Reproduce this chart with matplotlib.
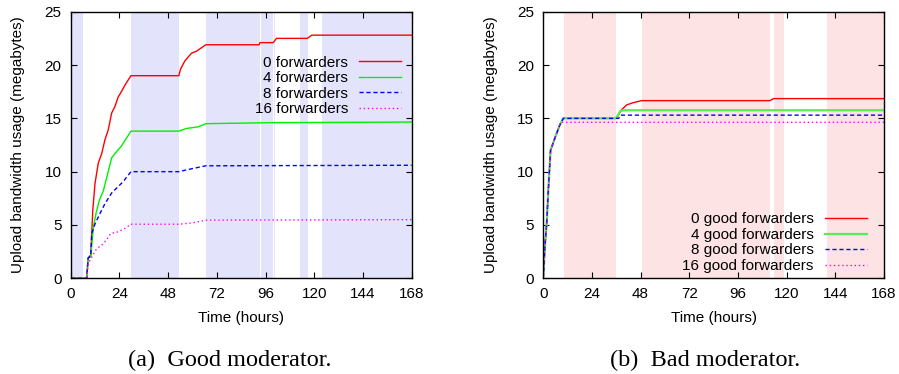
import matplotlib
matplotlib.use("Agg")
import matplotlib.pyplot as plt

plt.rcParams["font.family"] = ["Liberation Sans", "DejaVu Sans"]

# ---- (a) good moderator: cumulative upload per forwarder count ----
good_red_hours = [0, 7.9, 8.6, 9.9, 10.9, 12, 13.6, 15.3, 16.9, 18.5, 20.2, 21.8, 23.4, 25,
                  26.7, 29.7, 53.3, 54.1, 56.3, 59.5, 62, 66.6, 92.9, 93.3, 99.8, 101.4,
                  116.6, 118.8, 168]
good_red_mb = [0, 0, 1.9, 2.2, 6.4, 8.9, 10.8, 11.7, 13.0, 13.9, 15.5, 16.1, 17.0, 17.5,
               18.1, 19.0, 19.0, 19.6, 20.4, 21.1, 21.3, 21.9, 21.9, 22.1, 22.1, 22.5,
               22.5, 22.8, 22.8]

good_green_hours = [0, 7.9, 8.6, 9.9, 11.2, 12.5, 14.1, 16.1, 17.7, 20.2, 22.7, 25, 29.7,
                    53.3, 57, 62.8, 66.6, 101, 168]
good_green_mb = [0, 0, 1.9, 2.0, 4.8, 6.1, 7.3, 8.2, 9.4, 11.3, 11.9, 12.4, 13.8, 13.8,
                 14.05, 14.2, 14.5, 14.6, 14.65]

good_blue_hours = [0, 7.9, 8.6, 9.9, 10.4, 12, 14.5, 16.9, 20.2, 23.4, 25.8, 29.7, 53.3,
                   60.3, 66.6, 168]
good_blue_mb = [0, 0, 1.9, 2.1, 4.2, 5.1, 6.1, 7.0, 8.0, 8.6, 9.05, 10.0, 10.0, 10.3,
                10.55, 10.6]

good_magenta_hours = [0, 7.9, 8.7, 10.4, 12.9, 15.3, 17.7, 19.7, 23.4, 26.7, 29.7, 53.3,
                      60.3, 66.6, 168]
good_magenta_mb = [0, 0, 1.4, 2.0, 2.8, 3.1, 3.6, 4.2, 4.36, 4.67, 5.07, 5.07, 5.2, 5.45,
                   5.5]

good_labels = ["0 forwarders", "4 forwarders", "8 forwarders", "16 forwarders"]

# moderator-offline periods (hours)
good_bands = [(0, 6), (20.2, 20.6), (29.7, 53.3), (66.6, 93.25), (93.7, 99.5),
              (100.0, 100.6), (113.0, 116.7), (123.8, 168)]

# ---- (b) bad moderator ----
bad_red_hours = [0, 0.8, 1.7, 2.5, 3.6, 4.9, 6.6, 8.2, 9.9, 35.8, 37, 38.6, 41.1, 44.4,
                 48.5, 111.8, 113.5, 168]
bad_red_mb = [0, 2.97, 5.16, 8.3, 12.0, 12.7, 13.6, 14.4, 15.0, 15.0, 15.3, 15.8, 16.26,
              16.47, 16.66, 16.66, 16.85, 16.85]

bad_green_hours = [0, 0.8, 1.7, 2.5, 3.6, 4.9, 6.6, 8.2, 9.9, 35.8, 36.8, 38, 40, 168]
bad_green_mb = [0, 2.97, 5.16, 8.3, 12.0, 12.7, 13.6, 14.4, 15.0, 15.0, 15.3, 15.7, 15.76,
                15.76]

bad_blue_hours = [0, 0.8, 1.7, 2.5, 3.6, 4.9, 6.6, 8.2, 9.9, 37.2, 38, 168]
bad_blue_mb = [0, 2.97, 5.16, 8.3, 12.0, 12.7, 13.6, 14.4, 15.0, 15.0, 15.3, 15.3]

bad_magenta_hours = [0, 0.8, 1.7, 2.5, 3.6, 4.9, 6.6, 8.2, 9.5, 168]
bad_magenta_mb = [0, 2.97, 5.16, 8.3, 12.0, 12.7, 13.6, 14.4, 14.63, 14.63]

bad_labels = ["0 good forwarders", "4 good forwarders", "8 good forwarders",
              "16 good forwarders"]

bad_bands = [(10.2, 35.8), (48.6, 111.8), (113.7, 118.6), (139.8, 168)]

x_ticks = [0, 24, 48, 72, 96, 120, 144, 168]
y_ticks = [0, 5, 10, 15, 20, 25]

styles = [
    dict(color="#ff0000", lw=1.0, ls="-"),
    dict(color="#00f000", lw=1.0, ls="-"),
    dict(color="#0000ff", lw=1.0, ls=(0, (3, 2))),
    dict(color="#ff00ff", lw=1.0, ls=(0, (1, 2))),
]

fig = plt.figure(figsize=(8.99, 3.74), dpi=100)
ax_a = fig.add_axes([0.0786, 0.2559, 0.3793, 0.7128])
ax_b = fig.add_axes([0.6043, 0.2559, 0.3790, 0.7128])


def draw_panel(ax, bands, band_color, series, labels, legend_anchor, legend_loc,
               green_lw=1.0, green_color=None):
    for start, end in bands:
        ax.axvspan(start, end, color=band_color, lw=0, zorder=0)
    for i, ((hours, mb), style) in enumerate(zip(series, styles)):
        st = dict(style)
        if i == 1:
            st["lw"] = green_lw
            if green_color:
                st["color"] = green_color
        ax.plot(hours, mb, label=labels[i], zorder=2, **st)
    ax.set_xlim(0, 168)
    ax.set_ylim(0, 25)
    ax.set_xticks(x_ticks)
    ax.set_yticks(y_ticks)
    ax.tick_params(direction="in", length=4, width=0.8, top=True, right=True,
                   labelsize=11)
    ax.tick_params(axis="x", pad=6)
    ax.tick_params(axis="y", pad=6.5)
    for sp in ax.spines.values():
        sp.set_linewidth(1.0)
    ax.set_xlabel("Time (hours)", fontsize=11)
    ax.xaxis.set_label_coords(0.5, -0.123)
    ax.set_ylabel("Upload bandwidth usage (megabytes)", fontsize=11)
    ax.yaxis.set_label_coords(-0.134, 0.5)
    leg = ax.legend(loc=legend_loc, bbox_to_anchor=legend_anchor, frameon=False,
                    markerfirst=False, fontsize=11, handlelength=2.75,
                    handletextpad=0.75, labelspacing=0.1, borderaxespad=0,
                    borderpad=0)
    return leg


draw_panel(ax_a, good_bands, "#e3e3fb",
           [(good_red_hours, good_red_mb), (good_green_hours, good_green_mb),
            (good_blue_hours, good_blue_mb), (good_magenta_hours, good_magenta_mb)],
           good_labels, (0.97, 0.835), "upper right")

draw_panel(ax_b, bad_bands, "#fde3e3",
           [(bad_red_hours, bad_red_mb), (bad_green_hours, bad_green_mb),
            (bad_blue_hours, bad_blue_mb), (bad_magenta_hours, bad_magenta_mb)],
           bad_labels, (0.95, 0.02), "lower right", green_lw=1.6,
           green_color="#55ee55")

fig.text(230 / 899, 1 - 366 / 374, "(a)  Good moderator.", ha="center", va="baseline",
         fontsize=17.5, family=["Liberation Serif", "DejaVu Serif"])
fig.text(705 / 899, 1 - 366 / 374, "(b)  Bad moderator.", ha="center", va="baseline",
         fontsize=17.5, family=["Liberation Serif", "DejaVu Serif"])

fig.savefig("out.png", dpi=100)
